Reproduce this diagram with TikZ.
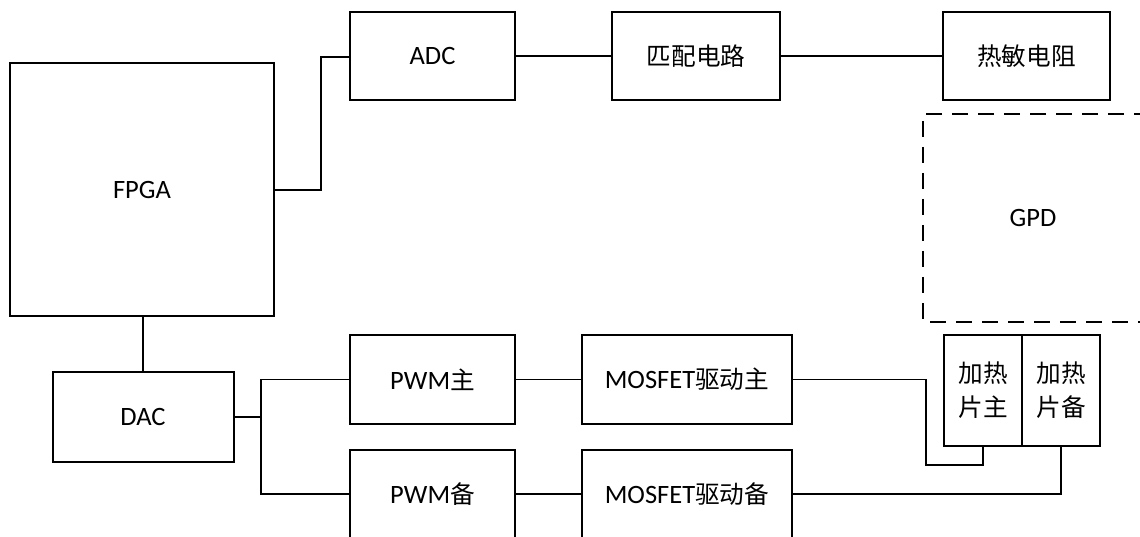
\documentclass[tikz,border=0pt]{standalone}
\usepackage{fontspec}
\setmainfont{Carlito}
\newfontfamily\cjk{Noto Sans CJK SC}[Scale=0.93]
\newcommand{\zh}[1]{{\cjk #1}}
\begin{document}
\begin{tikzpicture}[x=1pt,y=-1pt,
  blk/.style={draw,line width=2pt,inner sep=0pt,
    font=\fontsize{26.5}{34}\selectfont},
  wire/.style={line width=1.6pt},
  dbox/.style={draw,line width=2.2pt,dash pattern=on 16pt off 10pt}]
\useasboundingbox (0,0) rectangle (1140,537);
% boxes
\node[blk,minimum width=264pt,minimum height=253pt] (fpga) at (142,189.5) {FPGA};
\node[blk,minimum width=165pt,minimum height=88pt] (adc) at (432.5,56) {ADC};
\node[blk,minimum width=168pt,minimum height=88pt] (match) at (696,56) {\zh{匹配电路}};
\node[blk,minimum width=167pt,minimum height=88pt] (therm) at (1026.5,56) {\zh{热敏电阻}};
\draw[dbox] (1150,114) -- (923,114) -- (923,322) -- (1150,322);
\node[font=\fontsize{26.5}{30}\selectfont] (gpd) at (1033,218) {GPD};
\node[blk,minimum width=181pt,minimum height=90pt] (dac) at (143,417) {DAC};
\node[blk,minimum width=165pt,minimum height=89pt] (pwma) at (432.5,379.5) {PWM\zh{主}};
\node[blk,minimum width=165pt,minimum height=89pt] (pwmb) at (432.5,494) {PWM\zh{备}};
\node[blk,minimum width=210pt,minimum height=89pt] (mosa) at (687,379.5) {MOSFET\zh{驱动主}};
\node[blk,minimum width=210pt,minimum height=89pt] (mosb) at (687,494) {MOSFET\zh{驱动备}};
\node[blk,line width=2.6pt,minimum width=78pt,minimum height=111pt,align=center] (heata) at (983,390.5) {\zh{加热}\\\zh{片主}};
\node[blk,line width=2.6pt,minimum width=78pt,minimum height=111pt,align=center] (heatb) at (1061,390.5) {\zh{加热}\\\zh{片备}};
% connectors
\draw[wire] (fpga.east |- 0,190) -- (321,190) |- (adc.west |- 0,57);
\draw[wire] (adc) -- (match);
\draw[wire] (match) -- (therm);
\draw[wire] (fpga.south -| 143,0) -- (dac.north -| 143,0);
\coordinate (jn) at (261,417);
\draw[wire] (dac.east) -- (jn);
\draw[wire] (jn) |- (pwma.west);
\draw[wire] (jn) |- (pwmb.west);
\draw[wire] (pwma) -- (mosa);
\draw[wire] (pwmb) -- (mosb);
\draw[wire] (mosa.east) -- (926,379.5) -- (926,465) -| (heata.south);
\draw[wire] (mosb.east) -| (heatb.south);
\end{tikzpicture}
\end{document}
